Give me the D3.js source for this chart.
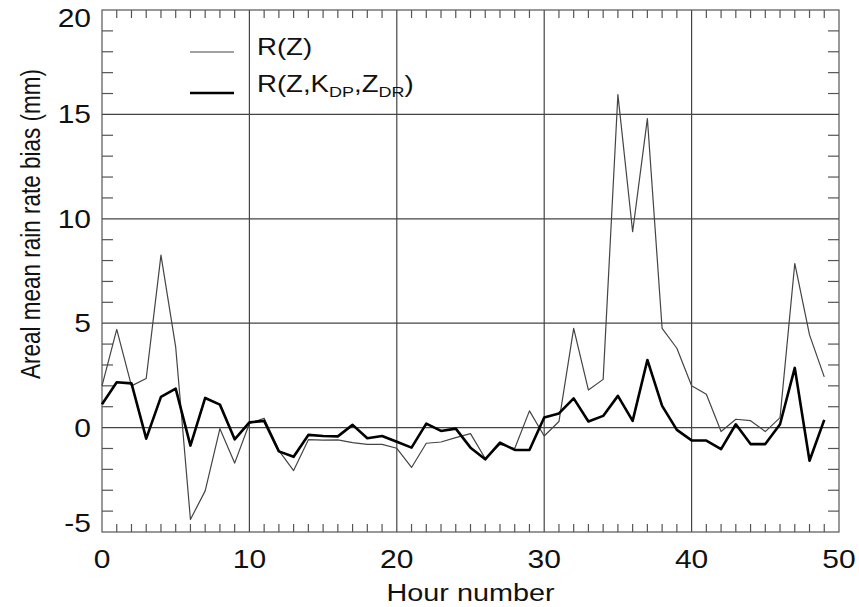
<!DOCTYPE html>
<html lang="en">
<head>
    <meta charset="UTF-8">
    <title>Areal mean rain rate bias</title>
    <script src="https://d3js.org/d3.v7.min.js"></script>
    <style>
        body { margin: 0; background: #fff; }
        text { font-family: "Liberation Sans", Arial, sans-serif; fill: #111; }
    </style>
</head>
<body>
    <svg width="859" height="607" id="chart"></svg>

    <script>
        // hour index and the two bias series (mm)
        const hours = d3.range(0, 50);
        const rZ = [2.0, 4.7, 2.0, 2.35, 8.26, 3.85, -4.4, -3.03, -0.05, -1.7,
                    0.2, 0.45, -1.1, -2.06, -0.58, -0.6, -0.59, -0.72, -0.8, -0.8,
                    -0.99, -1.91, -0.75, -0.69, -0.48, -0.29, -1.48, -0.8, -1.0, 0.8,
                    -0.4, 0.29, 4.75, 1.8, 2.31, 15.95, 9.38, 14.8, 4.75, 3.8,
                    2.0, 1.6, -0.19, 0.4, 0.33, -0.19, 0.48, 7.86, 4.44, 2.43];
        const rZKZ = [1.12, 2.17, 2.12, -0.53, 1.47, 1.87, -0.86, 1.42, 1.1, -0.56,
                      0.25, 0.32, -1.14, -1.4, -0.35, -0.4, -0.42, 0.13, -0.51, -0.4,
                      -0.68, -0.96, 0.19, -0.16, -0.05, -0.96, -1.52, -0.72, -1.07, -1.07,
                      0.48, 0.68, 1.4, 0.29, 0.56, 1.52, 0.32, 3.24, 1.04, -0.11,
                      -0.61, -0.62, -1.03, 0.16, -0.79, -0.79, 0.16, 2.86, -1.59, 0.37];
        const xTicks = [0, 10, 20, 30, 40, 50];
        const yTicks = [-5, 0, 5, 10, 15, 20];

        const svg = d3.select("#chart");
        const margin = { top: 10, right: 20, bottom: 75, left: 102 };
        const W = 859, H = 607;
        const sx = 1.2; // glyphs in the original are stretched sideways

        const x = d3.scaleLinear().domain([0, 50]).range([margin.left, W - margin.right]);
        const y = d3.scaleLinear().domain([-5, 20]).range([H - margin.bottom, margin.top]);

        const gridColor = "#444";

        // grid lines at major ticks
        svg.append("g").selectAll("line")
            .data(xTicks.slice(1, -1))
            .enter().append("line")
            .attr("x1", d => x(d)).attr("x2", d => x(d))
            .attr("y1", y(-5)).attr("y2", y(20))
            .attr("stroke", gridColor).attr("stroke-width", 1.2);

        svg.append("g").selectAll("line")
            .data(yTicks.slice(1, -1))
            .enter().append("line")
            .attr("x1", x(0)).attr("x2", x(50))
            .attr("y1", d => y(d)).attr("y2", d => y(d))
            .attr("stroke", gridColor).attr("stroke-width", 1.2);

        // minor ticks, pointing inward
        const xMinor = x.ticks(50).filter(d => d % 10 !== 0);
        const yMinor = y.ticks(25).filter(d => d % 5 !== 0);
        const ticks = svg.append("g").attr("stroke", "#555").attr("stroke-width", 1.2);
        xMinor.forEach(d => {
            ticks.append("line").attr("x1", x(d)).attr("x2", x(d))
                .attr("y1", y(-5)).attr("y2", y(-5) - 8);
            ticks.append("line").attr("x1", x(d)).attr("x2", x(d))
                .attr("y1", y(20)).attr("y2", y(20) + 8);
        });
        yMinor.forEach(d => {
            ticks.append("line").attr("x1", x(0)).attr("x2", x(0) + 11)
                .attr("y1", y(d)).attr("y2", y(d));
            ticks.append("line").attr("x1", x(50)).attr("x2", x(50) - 11)
                .attr("y1", y(d)).attr("y2", y(d));
        });

        // frame
        svg.append("rect")
            .attr("x", x(0)).attr("y", y(20))
            .attr("width", x(50) - x(0)).attr("height", y(-5) - y(20))
            .attr("fill", "none").attr("stroke", "#555").attr("stroke-width", 1.2);

        // tick labels
        svg.append("g").selectAll("text")
            .data(xTicks)
            .enter().append("text")
            .attr("transform", d => `translate(${x(d)},${y(-5) + 36}) scale(${sx},1)`)
            .attr("text-anchor", "middle")
            .style("font-size", "25px")
            .text(d => d);

        // end labels sit a little inside the frame, as in the original
        const yNudge = d => d === 20 ? 8 : d === -5 ? -9 : 0;
        svg.append("g").selectAll("text")
            .data(yTicks)
            .enter().append("text")
            .attr("transform", d => `translate(${x(0) - 11},${y(d) + 9 + yNudge(d)}) scale(${sx},1)`)
            .attr("text-anchor", "end")
            .style("font-size", "25px")
            .text(d => d);

        // axis titles
        svg.append("text")
            .attr("transform", `translate(${(x(0) + x(50)) / 2},${H - 6}) scale(${sx},1)`)
            .attr("text-anchor", "middle")
            .style("font-size", "24px")
            .text("Hour number");

        svg.append("text")
            .attr("transform", `translate(40,${(y(-5) + y(20)) / 2 - 47}) rotate(-90) scale(1,${sx})`)
            .attr("text-anchor", "middle")
            .style("font-size", "22.5px")
            .text("Areal mean rain rate bias (mm)");

        // series
        const line = d3.line().x((d, i) => x(hours[i])).y(d => y(d));

        svg.append("path")
            .datum(rZ)
            .attr("d", line)
            .attr("fill", "none")
            .attr("stroke", "#444")
            .attr("stroke-width", 1.2)
            .attr("stroke-linejoin", "round");

        svg.append("path")
            .datum(rZKZ)
            .attr("d", line)
            .attr("fill", "none")
            .attr("stroke", "#000")
            .attr("stroke-width", 2.6)
            .attr("stroke-linejoin", "round");

        // legend
        const legend = svg.append("g");
        legend.append("line").attr("x1", 190).attr("x2", 234).attr("y1", 52).attr("y2", 52)
            .attr("stroke", "#444").attr("stroke-width", 1.2);
        legend.append("line").attr("x1", 190).attr("x2", 234).attr("y1", 93).attr("y2", 93)
            .attr("stroke", "#000").attr("stroke-width", 2.6);

        legend.append("text")
            .attr("transform", `translate(257,55) scale(${sx},1)`)
            .style("font-size", "23px")
            .text("R(Z)");

        const t2 = legend.append("text")
            .attr("transform", `translate(257,92) scale(${sx},1)`)
            .style("font-size", "23px");
        t2.append("tspan").text("R(Z,K");
        t2.append("tspan").attr("dy", 5).style("font-size", "15px").text("DP");
        t2.append("tspan").attr("dy", -5).text(",Z");
        t2.append("tspan").attr("dy", 5).style("font-size", "15px").text("DR");
        t2.append("tspan").attr("dy", -5).text(")");
    </script>
</body>
</html>
